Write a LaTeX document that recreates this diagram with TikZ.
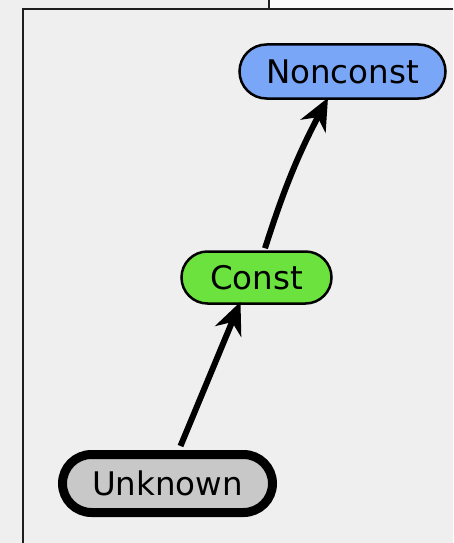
\documentclass[tikz,border=0pt]{standalone}
\usepackage{fontspec}
\setmainfont{DejaVu Sans}
\usetikzlibrary{shapes.misc,arrows.meta}
\definecolor{panelbg}{HTML}{EFEFEF}
\definecolor{topbg}{HTML}{FAFAFA}
\definecolor{frameline}{HTML}{1E1E1E}
\definecolor{nonconstfill}{HTML}{7AA6F7}
\definecolor{constfill}{HTML}{6BE23E}
\definecolor{unknownfill}{HTML}{C8C8C8}
\tikzset{
  state/.style={rounded rectangle, draw=black, line width=2.5pt,
    font=\fontsize{32.5}{38}\selectfont, inner sep=0pt},
  arr/.style={line width=6pt, -{Stealth[length=32pt,width=28pt,inset=10pt]}},
  frame/.style={draw=frameline, line width=2pt}
}
\begin{document}
\begin{tikzpicture}[x=1pt,y=-1pt]
  % canvas and window frame
  \fill[panelbg] (0,0) rectangle (453,543);
  \fill[topbg] (269,0) rectangle (453,9);
  \useasboundingbox (0,0) rectangle (453,543);
  \draw[frame] (269,0) -- (269,9);
  \draw[frame] (453,9) -- (23,9) -- (23,543);

  % states
  \node[state, fill=nonconstfill, minimum width=206pt, minimum height=54pt]
    (n) at (342.5,71.5) {Nonconst};
  \node[state, fill=constfill, minimum width=150pt, minimum height=52pt]
    (c) at (256.5,277.5) {Const};
  \node[state, fill=unknownfill, line width=9pt, minimum width=210pt, minimum height=58pt]
    (u) at (167.5,483.5) {Unknown};

  % transitions
  \draw[arr] ([xshift=13pt,yshift=4pt]u.north) -- ([xshift=-16pt,yshift=3pt]c.south);
  \draw[arr] ([xshift=8.5pt,yshift=2pt]c.north) to[bend left=5] ([xshift=-14.5pt,yshift=2pt]n.south);
\end{tikzpicture}
\end{document}
